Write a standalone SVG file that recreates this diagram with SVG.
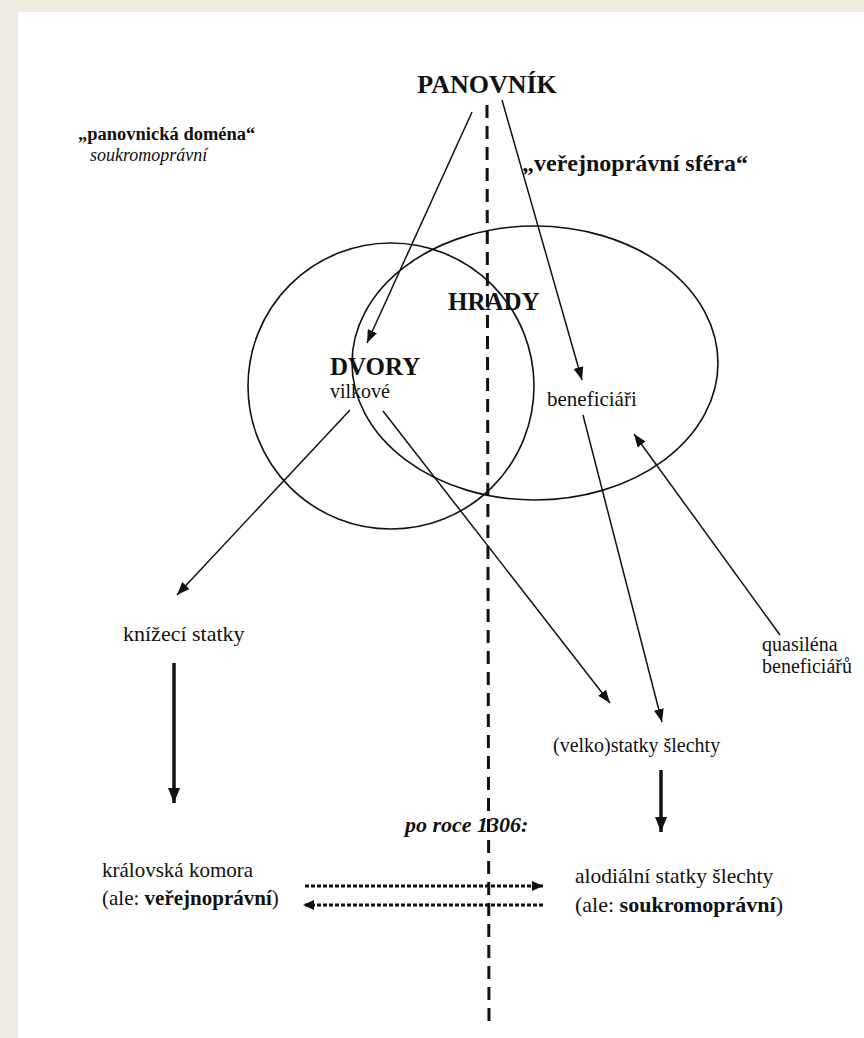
<svg xmlns="http://www.w3.org/2000/svg" width="864" height="1038" viewBox="0 0 864 1038">
<style>
.t{font-family:"Liberation Serif","Times New Roman",serif;fill:#111}
.b{font-weight:bold}
.i{font-style:italic}
.ln{stroke:#111;stroke-width:1.5;fill:none}
.th{stroke:#111;stroke-width:3.5;fill:none}
.dt{stroke:#111;stroke-width:3;fill:none;stroke-dasharray:4 2}
.el{stroke:#111;stroke-width:1.6;fill:none}
</style>
<defs>
<marker id="ah" markerUnits="userSpaceOnUse" markerWidth="14" markerHeight="10" refX="13" refY="5" orient="auto"><path d="M0,0 L13,5 L0,10 z" fill="#111"/></marker>
<marker id="ahb" markerUnits="userSpaceOnUse" markerWidth="16" markerHeight="12" refX="15" refY="6" orient="auto"><path d="M0,0 L15,6 L0,12 z" fill="#111"/></marker>
<marker id="ahd" markerUnits="userSpaceOnUse" markerWidth="12" markerHeight="10" refX="11" refY="5" orient="auto"><path d="M0,0 L11,5 L0,10 z" fill="#111"/></marker>
</defs>
<rect x="0" y="0" width="864" height="1038" fill="#efebe3"/>
<rect x="18" y="12" width="846" height="1026" fill="#fff"/>

<g id="divider"><line x1="487" y1="105" x2="489" y2="1025" stroke="#111" stroke-width="3" stroke-dasharray="13 8"/></g>

<g id="circles">
<circle id="domena-circle" cx="391" cy="386" r="143" class="el"/>
<ellipse id="verejna-ellipse" cx="535" cy="363" rx="183" ry="137" class="el"/>
</g>

<g id="connectors">
<line class="ln" x1="472" y1="112" x2="367" y2="343" marker-end="url(#ah)"/>
<line class="ln" x1="502" y1="100" x2="582" y2="380" marker-end="url(#ah)"/>
<line class="ln" x1="350" y1="410" x2="177" y2="595" marker-end="url(#ah)"/>
<line class="ln" x1="383" y1="411" x2="610" y2="703" marker-end="url(#ah)"/>
<line class="ln" x1="583" y1="415" x2="662" y2="722" marker-end="url(#ah)"/>
<line class="ln" x1="780" y1="635" x2="634" y2="434" marker-end="url(#ah)"/>
<line class="th" x1="174" y1="663" x2="174" y2="803" marker-end="url(#ahb)"/>
<line class="th" x1="661" y1="770" x2="661" y2="832" marker-end="url(#ahb)"/>
<line class="dt" x1="305" y1="886" x2="543" y2="886" marker-end="url(#ahd)"/>
<line class="dt" x1="543" y1="905" x2="303" y2="905" marker-end="url(#ahd)"/>
</g>

<g id="panovnik"><text class="t b" x="487" y="93" font-size="26" text-anchor="middle">PANOVNÍK</text></g>
<g id="domena"><text class="t b" x="78" y="140" font-size="18.5">„panovnická doména“</text>
<text class="t i" x="90" y="161" font-size="18">soukromoprávní</text></g>
<g id="sfera"><text class="t b" x="522" y="171" font-size="24">„veřejnoprávní sféra“</text></g>
<g id="hrady"><text class="t b" x="448" y="310" font-size="25">HRADY</text></g>
<g id="dvory"><text class="t b" x="330" y="375" font-size="25">DVORY</text>
<text class="t" x="330" y="398" font-size="20">vilkové</text></g>
<g id="beneficiari"><text class="t" x="547" y="406" font-size="21">beneficiáři</text></g>
<g id="knizeci"><text class="t" x="123" y="641" font-size="22">knížecí statky</text></g>
<g id="quasilena"><text class="t" x="762" y="651" font-size="20">quasiléna</text>
<text class="t" x="762" y="673" font-size="20">beneficiářů</text></g>
<g id="velkostatky"><text class="t" x="553" y="752" font-size="20">(velko)statky šlechty</text></g>
<g id="po1306"><text class="t b i" x="405" y="832" font-size="22">po roce 1306:</text></g>
<g id="komora"><text class="t" x="102" y="877" font-size="21">královská komora</text>
<text class="t" x="102" y="905" font-size="21">(ale: <tspan class="b">veřejnoprávní</tspan>)</text></g>
<g id="alodialni"><text class="t" x="575" y="883" font-size="21.5">alodiální statky šlechty</text>
<text class="t" x="575" y="912" font-size="22">(ale: <tspan class="b">soukromoprávní</tspan>)</text></g>
</svg>
